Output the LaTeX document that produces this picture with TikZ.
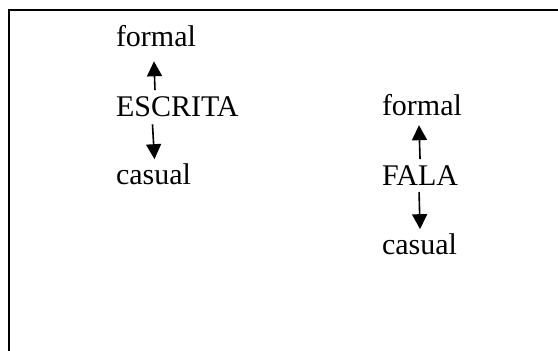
\documentclass[tikz,border=0pt]{standalone}
\usepackage{fontspec}
\setmainfont{Liberation Serif}
\usetikzlibrary{calc,arrows.meta}
\tikzset{
  lbl/.style={anchor=base west, inner sep=0pt, outer sep=0pt, font=\fontsize{30}{36}\selectfont},
  arr/.style={line width=1.6pt, -{Triangle[width=15pt,length=15pt]}},
  frame/.style={line width=2pt}
}
\begin{document}
\begin{tikzpicture}[x=1pt,y=1pt]
\useasboundingbox (0,0) rectangle (558,351);
\draw[frame] (8.5,-2) -- (8.5,341) -- (560,341);
\node[lbl] (formalL) at (116,304) {formal};
\node[lbl] (esc) at (116,234) {ESCRITA};
\node[lbl] (casualL) at (116,166) {casual};
\node[lbl] (formalR) at (382,235) {formal};
\node[lbl] (fala) at (382,165) {FALA};
\node[lbl] (casualR) at (382,96) {casual};
\draw[arr] ($(esc.north -| formalL.south)+(-1,7)$) -- ($(formalL.south)+(-2,-14)$);
\draw[arr] ($(esc.south -| casualL.north)+(-1,-7)$) -- ($(casualL.north)+(1,5)$);
\draw[arr] ($(fala.north)+(0,7)$) -- ($(formalR.south |- fala.north)+(-3,41)$);
\draw[arr] ($(fala.south)+(-1,-6)$) -- ($(casualR.north -| fala.south)+(0,5)$);
\end{tikzpicture}
\end{document}
